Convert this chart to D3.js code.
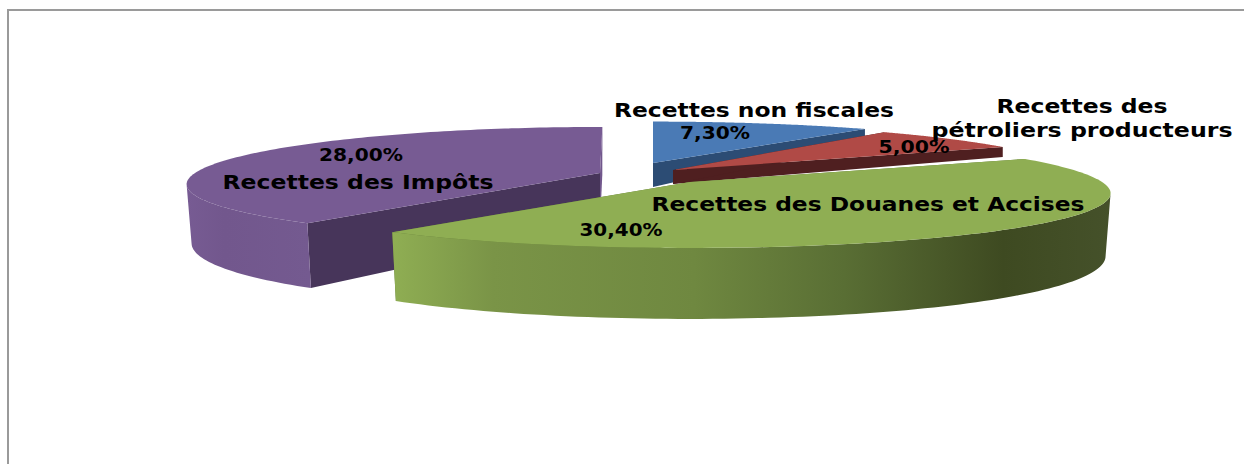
<!DOCTYPE html>
<html>
<head>
<meta charset="utf-8">
<script src="https://cdn.jsdelivr.net/npm/d3@7/dist/d3.min.js"></script>
<style>
  html, body { margin: 0; padding: 0; background: #fff; }
  svg { display: block; }
  text { font-family: "DejaVu Sans", sans-serif; font-weight: bold; fill: #000; text-anchor: middle; }
</style>
</head>
<body>
<svg width="1244" height="464"></svg>
<script>
let categories = ["Recettes non fiscales", "Recettes des pétroliers producteurs", "Recettes des Douanes et Accises", "Recettes des Impôts"];
let values = [7.3, 5.0, 30.4, 28.0];

// apex of every exploded slice, how wide it spreads and how thick it is drawn
let apex = [[653, 163], [673, 170], [690, 182], [600, 173]];
let spread = [[0.98, 0.9], [0.977, 1], [0.993, 1], [0.976, 1]];
let thickness = [
    {apex: 24, rim: 10, tilt: 0, inset: 1},
    {apex: 14, rim: 10, tilt: 0, inset: 1},
    {apex: 60, rim: 61, tilt: 10, inset: 0.988},
    {apex: 52, rim: 57, tilt: 10, inset: 0.988}
];
let colors = [
    {top: "#4a7ab5", cut: "#2c4c74", back: "#2c4c74", rim: [[0, "#3c659a"], [1, "#3c659a"]]},
    {top: "#b04a46", cut: "#4f1f20", back: "#4f1f20", rim: [[0, "#8a3633"], [1, "#8a3633"]]},
    {top: "#8fae53", cut: "#5f7637", back: "#5f7637", rim: [[0, "#8fae53"], [.14, "#7a9447"], [.42, "#6f8840"], [.63, "#596e34"], [.85, "#3e4a21"], [1, "#45512a"]]},
    {top: "#775b93", cut: "#47355a", back: "#71578c", rim: [[0, "#775b93"], [.3, "#72578d"], [1, "#745a90"]]}
];

// label text anchors [x, baseline] and drawn widths
let nameLabels = [
    {lines: ["Recettes non fiscales"], x: 754, y: [117], w: [280]},
    {lines: ["Recettes des", "pétroliers producteurs"], x: 1082, y: [113, 137], w: [171, 301]},
    {lines: ["Recettes des Douanes et Accises"], x: 868, y: [211], w: [433]},
    {lines: ["Recettes des Impôts"], x: 358, y: [189], w: [271]}
];
let percentLabels = [[715, 139, 70], [914, 153, 71], [621, 236, 83], [361, 161, 84]];

let svg = d3.select("svg");

// perspective of the pie plane
let perspX = 0.2, perspY = 0.178, radiusX = 415, radiusY = 54.2;
// the purple cut runs slightly past 12 o'clock
let overshoot = 0.007;

function project(i, a, frac) {
    let u = Math.sin(a) * frac,
        v = -Math.cos(a) * frac;
    return [
        apex[i][0] + radiusX * spread[i][0] * u / (1 - perspX * v),
        apex[i][1] + radiusY * spread[i][1] * v / (1 - perspY * v),
        v
    ];
}

// same point on the underside of the slice
function lower(i, a, frac) {
    let p = project(i, a, frac),
        t = thickness[i],
        d = frac === 0 ? t.apex : t.rim + t.tilt * p[2];
    return [apex[i][0] + (p[0] - apex[i][0]) * t.inset, p[1] + d];
}

let pie = d3.pie().sort(null).value(function(d) { return d; });
let slices = pie(values);
let line = d3.line();
let defs = svg.append("defs");

function xy(p) { return [p[0], p[1]]; }

svg.append("path")
    .attr("d", "M8,464V10H1244")
    .attr("fill", "none")
    .attr("stroke", "#9a9a9a")
    .attr("stroke-width", 2);

// painting order: back slices first
[0, 1, 3, 2].forEach(function(i) {
    let d = slices[i],
        end = d.endAngle + (i === 3 ? overshoot : 0),
        steps = d3.range(0, 121).map(function(k) { return d.startAngle + (end - d.startAngle) * k / 120; }),
        g = svg.append("g").attr("class", "slice");

    let grad = defs.append("linearGradient").attr("id", "rim" + i);
    grad.selectAll("stop").data(colors[i].rim).enter().append("stop")
        .attr("offset", function(s) { return s[0]; })
        .attr("stop-color", function(s) { return s[1]; });

    function cut(a, fill) {
        g.append("path")
            .attr("d", line([project(i, a, 0), project(i, a, 1), lower(i, a, 1), lower(i, a, 0)].map(xy)) + "Z")
            .attr("fill", fill);
    }
    cut(end, i === 3 ? colors[i].back : colors[i].cut);
    cut(d.startAngle, i === 3 ? colors[i].cut : colors[i].back);

    // the rim shows from the widest point of the ellipse towards the viewer
    let front = steps.filter(function(a) { return -Math.cos(a) >= perspX; });
    if (front.length) {
        let rimTop = front.map(function(a) { return xy(project(i, a, 1)); }),
            rimLow = front.map(function(a) { return lower(i, a, 1); }).reverse();
        g.append("path")
            .attr("d", line(rimTop.concat(rimLow)) + "Z")
            .attr("fill", "url(#rim" + i + ")");
    }

    let topArc = steps.map(function(a) { return xy(project(i, a, 1)); });
    g.append("path")
        .attr("d", line([xy(project(i, 0, 0))].concat(topArc)) + "Z")
        .attr("fill", colors[i].top);
});

// labels
let fmt = d3.format(".2f");
values.forEach(function(v, i) {
    svg.append("text")
        .attr("x", percentLabels[i][0])
        .attr("y", percentLabels[i][1])
        .attr("font-size", 18)
        .attr("textLength", percentLabels[i][2])
        .attr("lengthAdjust", "spacingAndGlyphs")
        .text(fmt(v).replace(".", ",") + "%");
});
nameLabels.forEach(function(l) {
    l.lines.forEach(function(t, k) {
        svg.append("text")
            .attr("x", l.x)
            .attr("y", l.y[k])
            .attr("font-size", 19)
            .attr("textLength", l.w[k])
            .attr("lengthAdjust", "spacingAndGlyphs")
            .text(t);
    });
});
</script>
</body>
</html>
